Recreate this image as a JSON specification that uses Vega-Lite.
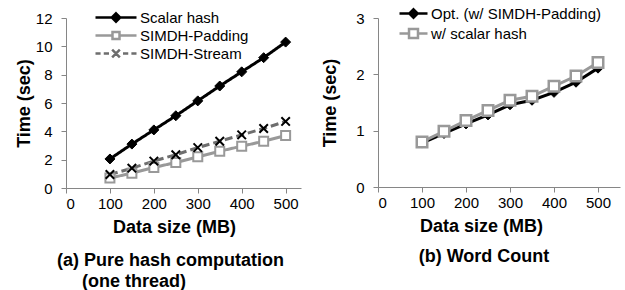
{
  "$schema": "https://vega.github.io/schema/vega-lite/v6.json",
  "background": "white",
  "padding": {"left": 15, "top": 5, "right": 2, "bottom": 0},
  "spacing": 20,
  "resolve": {"legend": {"color": "independent"}, "scale": {"color": "independent"}},
  "config": {
    "font": "Liberation Sans",
    "view": {"stroke": null},
    "axis": {
      "labelFont": "Liberation Sans", "labelFontSize": 15, "labelColor": "#000",
      "titleFont": "Liberation Sans", "titleFontSize": 18, "titleFontWeight": "bold", "titleColor": "#000",
      "domainColor": "#868686", "domainWidth": 1, "tickColor": "#868686", "tickSize": 5, "grid": false
    },
    "title": {"font": "Liberation Sans", "fontSize": 18, "fontWeight": "bold", "color": "#000"},
    "legend": {"labelFont": "Liberation Sans", "labelFontSize": 15, "labelColor": "#000", "title": null, "labelLimit": 400}
  },
  "hconcat": [
    {
      "width": 235, "height": 170,
      "title": {"text": ["(a) Pure hash computation", "\u200b\u00a0\u00a0\u00a0\u00a0\u00a0(one thread)"], "orient": "bottom", "anchor": "start", "frame": "group", "dx": -9, "offset": 16, "lineHeight": 21},
      "data": {"values": [
        {"size": 100, "time": 2.05, "series": "Scalar hash"},
        {"size": 150, "time": 3.1, "series": "Scalar hash"},
        {"size": 200, "time": 4.1, "series": "Scalar hash"},
        {"size": 250, "time": 5.1, "series": "Scalar hash"},
        {"size": 300, "time": 6.15, "series": "Scalar hash"},
        {"size": 350, "time": 7.2, "series": "Scalar hash"},
        {"size": 400, "time": 8.2, "series": "Scalar hash"},
        {"size": 450, "time": 9.2, "series": "Scalar hash"},
        {"size": 500, "time": 10.3, "series": "Scalar hash"},
        {"size": 100, "time": 0.7, "series": "SIMDH-Padding"},
        {"size": 150, "time": 1.05, "series": "SIMDH-Padding"},
        {"size": 200, "time": 1.45, "series": "SIMDH-Padding"},
        {"size": 250, "time": 1.8, "series": "SIMDH-Padding"},
        {"size": 300, "time": 2.2, "series": "SIMDH-Padding"},
        {"size": 350, "time": 2.6, "series": "SIMDH-Padding"},
        {"size": 400, "time": 2.95, "series": "SIMDH-Padding"},
        {"size": 450, "time": 3.3, "series": "SIMDH-Padding"},
        {"size": 500, "time": 3.7, "series": "SIMDH-Padding"},
        {"size": 100, "time": 0.95, "series": "SIMDH-Stream"},
        {"size": 150, "time": 1.4, "series": "SIMDH-Stream"},
        {"size": 200, "time": 1.9, "series": "SIMDH-Stream"},
        {"size": 250, "time": 2.35, "series": "SIMDH-Stream"},
        {"size": 300, "time": 2.85, "series": "SIMDH-Stream"},
        {"size": 350, "time": 3.3, "series": "SIMDH-Stream"},
        {"size": 400, "time": 3.75, "series": "SIMDH-Stream"},
        {"size": 450, "time": 4.2, "series": "SIMDH-Stream"},
        {"size": 500, "time": 4.7, "series": "SIMDH-Stream"}
      ]},
      "encoding": {
        "x": {"field": "size", "type": "quantitative", "scale": {"domain": [0, 535], "nice": false, "zero": true},
              "axis": {"values": [0, 100, 200, 300, 400, 500], "title": "Data size (MB)", "labelPadding": 3, "titlePadding": 7, "titleX": 108}},
        "y": {"field": "time", "type": "quantitative", "scale": {"domain": [0, 12], "nice": false},
              "axis": {"values": [0, 2, 4, 6, 8, 10, 12], "title": "Time (sec)", "labelPadding": 9, "titlePadding": 2}}
      },
      "layer": [
        {
          "mark": {"type": "line", "strokeWidth": 3},
          "encoding": {
            "color": {"field": "series", "type": "nominal",
              "scale": {"domain": ["Scalar hash", "SIMDH-Padding", "SIMDH-Stream"], "range": ["#000000", "#999999", "#6e6e6e"]},
              "legend": {
                "orient": "none", "legendX": 41.5, "legendY": -9, "symbolSize": 196, "labelOffset": 15.5, "rowPadding": 0,
                "encode": {"symbols": {"update": {
                  "shape": {"signal": "datum.value === 'Scalar hash' ? 'M-2.93,0L2.93,0M0,-0.6L0.6,0L0,0.6L-0.6,0Z' : datum.value === 'SIMDH-Padding' ? 'M-2.93,0L-0.5,0M0.5,0L2.93,0M-0.5,-0.5L0.5,-0.5L0.5,0.5L-0.5,0.5Z' : 'M-2.93,0L-2.2,0M-1.75,0L-1.0,0M1.0,0L1.75,0M2.2,0L2.93,0M-0.55,-0.55L0.55,0.55M-0.55,0.55L0.55,-0.55'"},
                  "stroke": {"signal": "datum.value === 'Scalar hash' ? '#000' : datum.value === 'SIMDH-Padding' ? '#999999' : '#6e6e6e'"},
                  "fill": {"signal": "datum.value === 'Scalar hash' ? '#000' : datum.value === 'SIMDH-Padding' ? '#fff' : 'transparent'"},
                  "strokeWidth": {"value": 2.5},
                  "opacity": {"value": 1}
                }}}
              }},
            "strokeDash": {"field": "series", "type": "nominal",
              "scale": {"domain": ["Scalar hash", "SIMDH-Padding", "SIMDH-Stream"], "range": [[1, 0], [1, 0], [8, 4]]}, "legend": null}
          }
        },
        {
          "transform": [{"filter": "datum.series === 'SIMDH-Padding'"}],
          "mark": {"type": "point", "shape": "square", "size": 81, "filled": false, "fill": "#ffffff", "stroke": "#999999", "strokeWidth": 2, "opacity": 1}
        },
        {
          "transform": [{"filter": "datum.series === 'SIMDH-Stream'"}],
          "mark": {"type": "point", "shape": "M-1,-1L1,1M-1,1L1,-1", "size": 72, "filled": false, "stroke": "#000000", "strokeWidth": 2, "opacity": 1}
        },
        {
          "transform": [{"filter": "datum.series === 'Scalar hash'"}],
          "mark": {"type": "point", "shape": "diamond", "size": 100, "filled": true, "fill": "#000000", "stroke": "#000000", "strokeWidth": 1, "opacity": 1}
        }
      ]
    },
    {
      "width": 242, "height": 169,
      "title": {"text": "(b) Word Count", "orient": "bottom", "anchor": "middle", "frame": "group", "dx": -15, "offset": 13},
      "data": {"values": [
        {"size": 100, "time": 0.78, "series": "Opt. (w/ SIMDH-Padding)"},
        {"size": 150, "time": 0.95, "series": "Opt. (w/ SIMDH-Padding)"},
        {"size": 200, "time": 1.12, "series": "Opt. (w/ SIMDH-Padding)"},
        {"size": 250, "time": 1.28, "series": "Opt. (w/ SIMDH-Padding)"},
        {"size": 300, "time": 1.46, "series": "Opt. (w/ SIMDH-Padding)"},
        {"size": 350, "time": 1.54, "series": "Opt. (w/ SIMDH-Padding)"},
        {"size": 400, "time": 1.68, "series": "Opt. (w/ SIMDH-Padding)"},
        {"size": 450, "time": 1.86, "series": "Opt. (w/ SIMDH-Padding)"},
        {"size": 500, "time": 2.11, "series": "Opt. (w/ SIMDH-Padding)"},
        {"size": 100, "time": 0.8, "series": "w/ scalar hash"},
        {"size": 150, "time": 0.99, "series": "w/ scalar hash"},
        {"size": 200, "time": 1.18, "series": "w/ scalar hash"},
        {"size": 250, "time": 1.36, "series": "w/ scalar hash"},
        {"size": 300, "time": 1.54, "series": "w/ scalar hash"},
        {"size": 350, "time": 1.61, "series": "w/ scalar hash"},
        {"size": 400, "time": 1.79, "series": "w/ scalar hash"},
        {"size": 450, "time": 1.97, "series": "w/ scalar hash"},
        {"size": 500, "time": 2.21, "series": "w/ scalar hash"}
      ]},
      "encoding": {
        "x": {"field": "size", "type": "quantitative", "scale": {"domain": [0, 550], "nice": false, "zero": true},
              "axis": {"values": [0, 100, 200, 300, 400, 500], "title": "Data size (MB)", "labelPadding": 3, "titlePadding": 7, "titleX": 103}},
        "y": {"field": "time", "type": "quantitative", "scale": {"domain": [0, 3], "nice": false},
              "axis": {"values": [0, 1, 2, 3], "title": "Time (sec)", "labelPadding": 9, "titlePadding": 16}}
      },
      "layer": [
        {
          "mark": {"type": "line", "strokeWidth": 3},
          "encoding": {
            "color": {"field": "series", "type": "nominal",
              "scale": {"domain": ["Opt. (w/ SIMDH-Padding)", "w/ scalar hash"], "range": ["#000000", "#999999"]},
              "legend": {
                "orient": "none", "legendX": 27, "legendY": -13, "symbolSize": 196, "labelOffset": 9, "rowPadding": 1,
                "encode": {"symbols": {"update": {
                  "shape": {"signal": "datum.value === 'w/ scalar hash' ? 'M-2,0L-0.64,0M0.64,0L2,0M-0.64,-0.64L0.64,-0.64L0.64,0.64L-0.64,0.64Z' : 'M-2,0L2,0M0,-0.6L0.6,0L0,0.6L-0.6,0Z'"},
                  "stroke": {"signal": "datum.value === 'w/ scalar hash' ? '#999999' : '#000'"},
                  "fill": {"signal": "datum.value === 'w/ scalar hash' ? '#fff' : '#000'"},
                  "strokeWidth": {"value": 2.5},
                  "opacity": {"value": 1}
                }}}
              }}
          }
        },
        {
          "transform": [{"filter": "datum.series === 'Opt. (w/ SIMDH-Padding)'"}],
          "mark": {"type": "point", "shape": "diamond", "size": 100, "filled": true, "fill": "#000000", "stroke": "#000000", "strokeWidth": 1, "opacity": 1}
        },
        {
          "transform": [{"filter": "datum.series === 'w/ scalar hash'"}],
          "mark": {"type": "point", "shape": "square", "size": 110, "filled": false, "fill": "#ffffff", "stroke": "#999999", "strokeWidth": 2.5, "opacity": 1}
        }
      ]
    }
  ]
}
